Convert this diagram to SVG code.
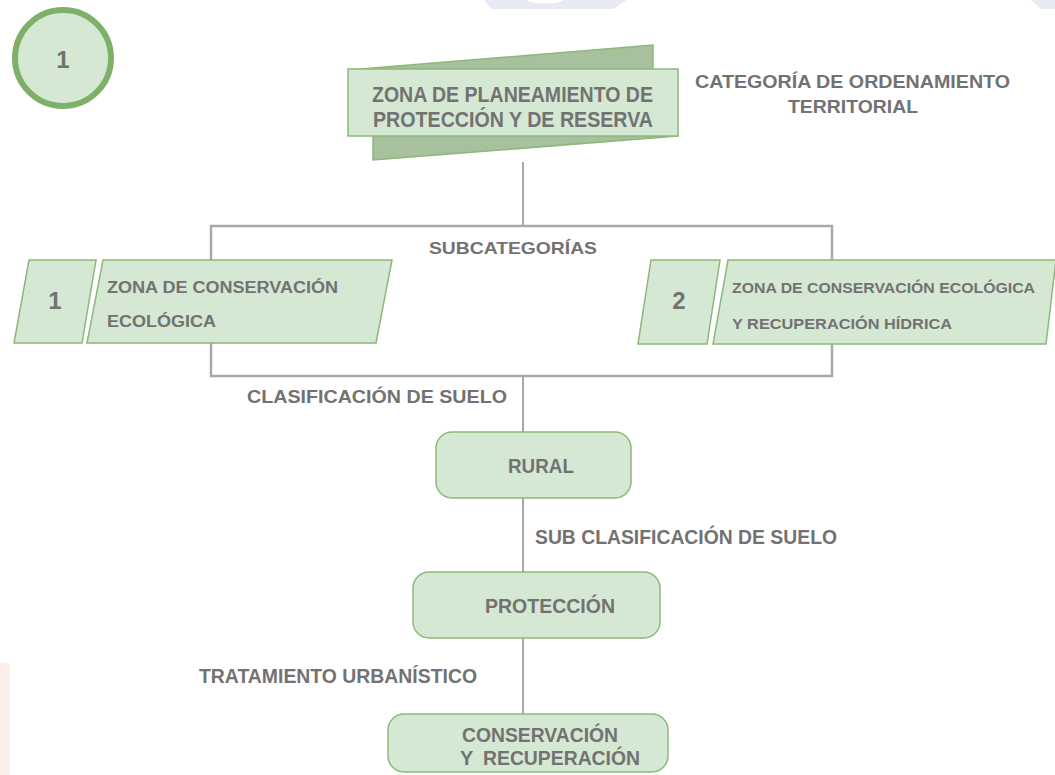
<svg xmlns="http://www.w3.org/2000/svg" width="1055" height="775" viewBox="0 0 1055 775">
<style>
.g{fill:#d5e8d4;stroke:#8cb87a;stroke-width:1.5}
.t{font-family:"Liberation Sans",Arial,sans-serif;font-weight:bold;fill:#727272}
.ln{stroke:#a8a8a8;stroke-width:2;fill:none}
</style>
<rect x="0" y="0" width="1055" height="775" fill="#ffffff"/>
<g id="watermark">
<path d="M484,0 L627,0 L613,9 L491,9 Z" fill="#e7e9f3"/>
<ellipse cx="545" cy="0" rx="18" ry="3.5" fill="#ffffff"/>
<path d="M1031,0 L1055,0 L1055,9 L1041,9 Z" fill="#e7e9f3"/>
<rect x="0" y="663" width="10" height="112" fill="#fdeee9"/>
</g>
<g id="connectors">
<line class="ln" x1="523" y1="162" x2="523" y2="226"/>
<line class="ln" x1="523" y1="376" x2="523" y2="432"/>
<line class="ln" x1="523" y1="498" x2="523" y2="572"/>
<line class="ln" x1="523" y1="638" x2="523" y2="714"/>
</g>
<g id="badge">
<circle cx="63" cy="58" r="48" fill="#d5e8d4" stroke="#7fb069" stroke-width="6"/>
<text class="t" x="63" y="68" font-size="24" text-anchor="middle">1</text>
</g>
<g id="banner">
<polygon points="348,70 653,45 653,136 678,136 373,160 373,70" fill="#a7c09d" stroke="#8cb87a" stroke-width="1.5"/>
<rect class="g" x="348" y="69" width="330" height="67"/>
<text class="t" x="372" y="102" font-size="22" textLength="281" lengthAdjust="spacingAndGlyphs">ZONA DE PLANEAMIENTO DE</text>
<text class="t" x="373" y="127" font-size="22" textLength="280" lengthAdjust="spacingAndGlyphs">PROTECCIÓN Y DE RESERVA</text>
</g>
<g id="categoria">
<text class="t" x="695" y="88" font-size="19" textLength="315" lengthAdjust="spacingAndGlyphs">CATEGORÍA DE ORDENAMIENTO</text>
<text class="t" x="788" y="113" font-size="19" textLength="130" lengthAdjust="spacingAndGlyphs">TERRITORIAL</text>
</g>
<g id="subcategorias">
<rect x="211" y="226" width="621" height="150" fill="none" stroke="#a8a8a8" stroke-width="2.5"/>
<text class="t" x="429" y="254" font-size="17" textLength="168" lengthAdjust="spacingAndGlyphs">SUBCATEGORÍAS</text>
</g>
<g id="zona1">
<polygon class="g" points="29,260 96,260 82,343 14,343"/>
<polygon class="g" points="103,260 392,260 376,343 87,343"/>
<text class="t" x="55" y="309" font-size="24" text-anchor="middle">1</text>
<text class="t" x="107" y="293" font-size="16" textLength="231" lengthAdjust="spacingAndGlyphs">ZONA DE CONSERVACIÓN</text>
<text class="t" x="107" y="327" font-size="16" textLength="109" lengthAdjust="spacingAndGlyphs">ECOLÓGICA</text>
</g>
<g id="zona2">
<polygon class="g" points="651,260 720,260 707,344 638,344"/>
<polygon class="g" points="728,260 1056,260 1046,344 713,344"/>
<text class="t" x="679" y="309" font-size="24" text-anchor="middle">2</text>
<text class="t" x="732" y="293" font-size="15" textLength="303" lengthAdjust="spacingAndGlyphs">ZONA DE CONSERVACIÓN ECOLÓGICA</text>
<text class="t" x="732" y="329" font-size="15" textLength="220" lengthAdjust="spacingAndGlyphs">Y RECUPERACIÓN HÍDRICA</text>
</g>
<g id="clasificacion">
<text class="t" x="247" y="403" font-size="18.5" textLength="260" lengthAdjust="spacingAndGlyphs">CLASIFICACIÓN DE SUELO</text>
</g>
<g id="rural">
<rect class="g" x="436" y="432" width="195" height="66" rx="16"/>
<text class="t" x="508" y="473" font-size="20" textLength="66" lengthAdjust="spacingAndGlyphs">RURAL</text>
</g>
<g id="subclasificacion">
<text class="t" x="535" y="544" font-size="20" textLength="302" lengthAdjust="spacingAndGlyphs">SUB CLASIFICACIÓN DE SUELO</text>
</g>
<g id="proteccion">
<rect class="g" x="413" y="572" width="247" height="66" rx="16"/>
<text class="t" x="485" y="613" font-size="20" textLength="130" lengthAdjust="spacingAndGlyphs">PROTECCIÓN</text>
</g>
<g id="tratamiento">
<text class="t" x="199" y="683" font-size="20" textLength="278" lengthAdjust="spacingAndGlyphs">TRATAMIENTO URBANÍSTICO</text>
</g>
<g id="conservacion">
<rect class="g" x="388" y="714" width="280" height="58" rx="16"/>
<text class="t" x="462" y="742" font-size="20" textLength="156" lengthAdjust="spacingAndGlyphs">CONSERVACIÓN</text>
<text class="t" x="460" y="765" font-size="20">Y <tspan x="483" textLength="157" lengthAdjust="spacingAndGlyphs">RECUPERACIÓN</tspan></text>
</g>
</svg>
